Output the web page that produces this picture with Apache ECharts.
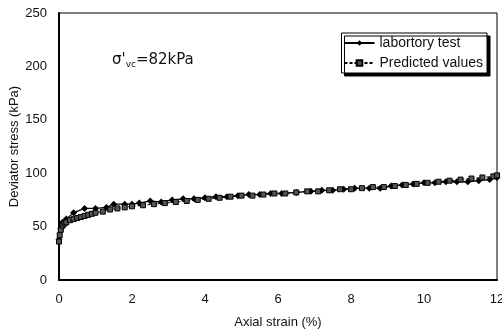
<!DOCTYPE html>
<html><head><meta charset="utf-8">
<script src="https://cdn.jsdelivr.net/npm/echarts@6/dist/echarts.min.js"></script>
<style>html,body{margin:0;padding:0;background:#fff}#c{width:502px;height:334px}</style>
</head><body><div id="c"></div>
<script>
const labStrain = [0,0.05,0.1,0.2,0.4,0.7,1.0,1.3,1.5,1.8,2.0,2.2,2.5,2.8,3.1,3.4,3.7,4.0,4.3,4.6,4.9,5.2,5.5,5.8,6.1,6.5,6.9,7.2,7.5,7.8,8.1,8.5,8.8,9.1,9.4,9.7,10.0,10.3,10.6,10.9,11.2,11.5,11.8,12.0];
const labStress = [38,48,54,57,63,67,67,68,71,71,71,72,74,73,75,76,76,77,78,78,79,80,80,81,81,82,83,84,84,85,86,86,86,88,89,90,91,91,92,92,92,93,94,96];
const predStrain = [0,0.02,0.05,0.1,0.15,0.2,0.3,0.4,0.5,0.6,0.7,0.8,0.9,1.0,1.2,1.4,1.6,1.8,2.0,2.3,2.6,2.9,3.2,3.5,3.8,4.1,4.4,4.7,5.0,5.3,5.6,5.9,6.2,6.5,6.8,7.1,7.4,7.7,8.0,8.3,8.6,8.9,9.2,9.5,9.8,10.1,10.4,10.7,11.0,11.3,11.6,11.9,12.0];
const predStress = [36,42,47,51,53,54,56,57,58,59,60,61,62,63,64,66,67,68,69,70,71,72,73,74,75,76,77,78,79,79,80,81,81,82,83,83,84,85,85,86,87,87,88,89,90,91,92,93,94,95,96,97,98];
const seriesNames = ['labortory test','Predicted values'];
const xTicks = {min:0,max:12,interval:2};
const yTicks = {min:0,max:250,interval:50};

const font = 'Liberation Sans, Arial, sans-serif';
const chart = echarts.init(document.getElementById('c'));
chart.setOption({
  animation:false,
  backgroundColor:'#fff',
  grid:{left:59,right:5,top:13,bottom:54,show:true,borderColor:'#000',borderWidth:1,containLabel:false,outerBoundsMode:'none'},
  xAxis:{type:'value',min:xTicks.min,max:xTicks.max,interval:xTicks.interval,
    name:'Axial strain (%)',nameLocation:'middle',nameGap:36,nameMoveOverlap:false,
    nameTextStyle:{fontFamily:font,fontSize:13,color:'#111'},
    axisLine:{show:true,lineStyle:{color:'#000',width:2}},axisTick:{show:false},
    splitLine:{show:false},
    axisLabel:{fontFamily:font,fontSize:13,color:'#111',margin:13}},
  yAxis:{type:'value',min:yTicks.min,max:yTicks.max,interval:yTicks.interval,
    name:'Deviator stress (kPa)',nameLocation:'middle',nameGap:38,nameMoveOverlap:false,
    nameTextStyle:{fontFamily:font,fontSize:13,color:'#111'},
    axisLine:{show:true,lineStyle:{color:'#000',width:2}},axisTick:{show:false},
    splitLine:{show:false},
    axisLabel:{fontFamily:font,fontSize:13,color:'#111',margin:12}},
  legend:{orient:'vertical',right:15,top:33,itemWidth:30,itemHeight:7,itemGap:6,
    padding:[3,4,3,2],borderColor:'#000',borderWidth:1,backgroundColor:'#fff',
    shadowColor:'#000',shadowOffsetX:3,shadowOffsetY:3,shadowBlur:0,
    textStyle:{fontFamily:font,fontSize:14,color:'#111'},
    data:[{name:seriesNames[0]},{name:seriesNames[1]}]},
  graphic:[{type:'text',left:112,top:53,style:{
    rich:{a:{fontFamily:'DejaVu Sans, sans-serif',fontSize:15,fill:'#111'},s:{fontFamily:'DejaVu Sans, sans-serif',fontSize:9,fill:'#111',padding:[8,0,0,0]}},
    text:"{a|σ'}{s|vc}{a|=82kPa}"}}],
  series:[
    {name:seriesNames[0],type:'line',data:labStrain.map((x,i)=>[x,labStress[i]]),
     symbol:'diamond',symbolSize:7,lineStyle:{color:'#000',width:1.3},itemStyle:{color:'#000'}},
    {name:seriesNames[1],type:'line',data:predStrain.map((x,i)=>[x,predStress[i]]),
     symbol:'rect',symbolSize:5,lineStyle:{color:'#000',width:1,type:[3,2]},itemStyle:{color:'#555',borderColor:'#000',borderWidth:1}}
  ]
});
</script></body></html>
